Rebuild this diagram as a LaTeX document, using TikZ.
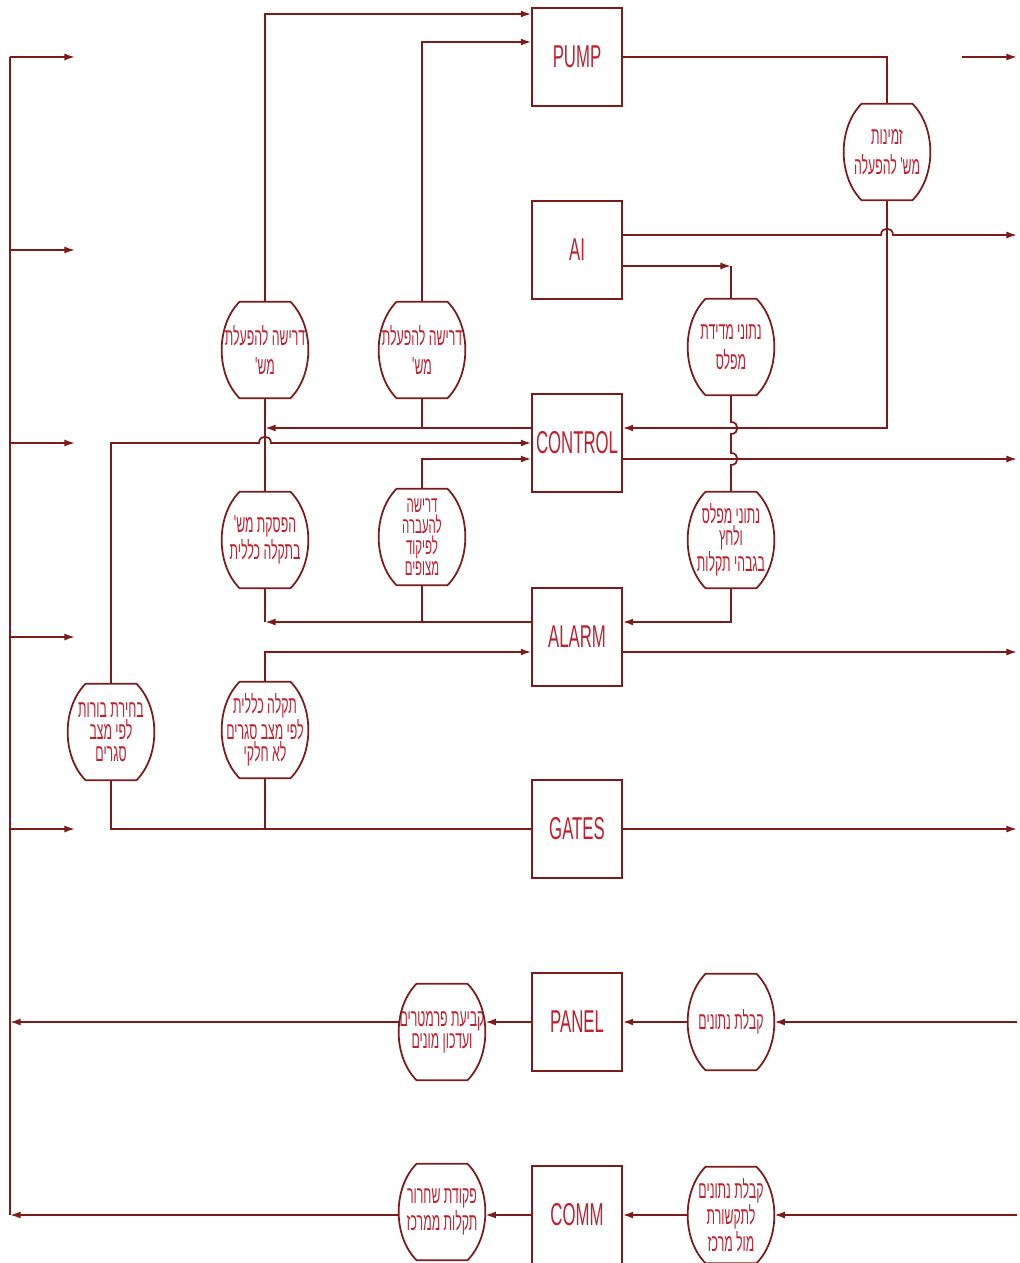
\documentclass[tikz,border=0pt]{standalone}
\usepackage{fontspec}
\usepackage{tikz}
\usetikzlibrary{arrows.meta}
\newfontfamily\hebfont[Script=Hebrew,FakeStretch=0.5]{Liberation Sans}
\newfontfamily\boxfont[FakeStretch=0.53]{Liberation Sans}
\TeXXeTstate=1
\definecolor{linecol}{HTML}{7D1A1A}
\definecolor{textcol}{HTML}{C0202E}
\newcommand{\heb}[1]{\beginR#1\endR}

\begin{document}
\begin{tikzpicture}[
    x=0.02cm, y=-0.02cm,
    >={Latex[length=6pt,width=4pt]},
    unitbox/.style={draw=linecol, line width=0.8pt, minimum width=1.8cm,
                    minimum height=1.96cm, inner sep=0pt, text=textcol,
                    font=\boxfont\fontsize{18}{20}\selectfont},
    flowlabel/.style={minimum width=1.72cm, minimum height=1.92cm, inner sep=0pt,
                      align=center, text=textcol,
                      font=\hebfont\fontsize{14}{12.5}\selectfont},
    twoline/.style={font=\hebfont\fontsize{14}{17}\selectfont},
    fourline/.style={font=\hebfont\fontsize{13}{12}\selectfont},
    wire/.style={draw=linecol, line width=1pt},
    feed/.style={wire, ->},
]
\useasboundingbox (0,0) rectangle (1019,1263);
\clip (0,0) rectangle (1019,1263);

% ---- Units ----
\node[unitbox] (pump)  at (577,57)   {PUMP};
\node[unitbox] (ai)    at (577,250)  {AI};
\node[unitbox] (ctrl)  at (577,443)  {CONTROL};
\node[unitbox] (alarm) at (577,637)  {ALARM};
\node[unitbox] (gates) at (577,829)  {GATES};
\node[unitbox] (panel) at (577,1022) {PANEL};
\node[unitbox] (comm)  at (577,1215) {COMM};

% ---- Flow labels ----
\node[flowlabel, twoline]  (zmin)  at (887,152)  {\heb{זמינות}\\\heb{מש' להפעלה}};
\node[flowlabel, twoline]  (req1)  at (265,350)  {\heb{דרישה להפעלת}\\\heb{מש'}};
\node[flowlabel, twoline]  (req2)  at (422,350)  {\heb{דרישה להפעלת}\\\heb{מש'}};
\node[flowlabel, twoline]  (lvl)   at (731,347)  {\heb{נתוני מדידת}\\\heb{מפלס}};
\node[flowlabel]           (stop)  at (265,540)  {\heb{הפסקת מש'}\\\heb{בתקלה כללית}};
\node[flowlabel, fourline] (xfer)  at (422,537)  {\heb{דרישה}\\\heb{להעברה}\\\heb{לפיקוד}\\\heb{מצופים}};
\node[flowlabel]           (lvl2)  at (731,540)  {\heb{נתוני מפלס}\\\heb{ולחץ}\\\heb{בגבהי תקלות}};
\node[flowlabel]           (pits)  at (111,732)  {\heb{בחירת בורות}\\\heb{לפי מצב}\\\heb{סגרים}};
\node[flowlabel]           (fault) at (265,730)  {\heb{תקלה כללית}\\\heb{לפי מצב סגרים}\\\heb{לא חלקי}};
\node[flowlabel]           (param) at (442,1032) {\heb{קביעת פרמטרים}\\\heb{ועדכון מונים}};
\node[flowlabel]           (recv)  at (731,1022) {\heb{קבלת נתונים}};
\node[flowlabel]           (reset) at (442,1212) {\heb{פקודת שחרור}\\\heb{תקלות ממרכז}};
\node[flowlabel]           (link)  at (731,1215) {\heb{קבלת נתונים}\\\heb{לתקשורת}\\\heb{מול מרכז}};

% barrel outlines
\foreach \s in {zmin,req1,req2,lvl,stop,xfer,lvl2,pits,fault,param,recv,reset,link}
  \draw[wire] ([xshift=0.36cm]\s.north west) -- ([xshift=-0.36cm]\s.north east)
    .. controls ([xshift=0.12cm,yshift=-0.48cm]\s.north east) and ([xshift=0.12cm,yshift=0.48cm]\s.south east) .. ([xshift=-0.36cm]\s.south east)
    -- ([xshift=0.36cm]\s.south west)
    .. controls ([xshift=-0.12cm,yshift=0.48cm]\s.south west) and ([xshift=-0.12cm,yshift=-0.48cm]\s.north west) .. ([xshift=0.36cm]\s.north west) -- cycle;

% ---- Ports ----
\coordinate (leftEdge)  at (10,0);
\coordinate (rightEdge) at (1017,0);
\coordinate (pumpOut)   at (pump -| rightEdge);
\coordinate (pump-l1)  at ([yshift=0.86cm]pump.west);
\coordinate (pump-l2)  at ([yshift=0.3cm]pump.west);
\coordinate (ai-r1)    at ([yshift=0.3cm]ai.east);
\coordinate (ai-r2)    at ([yshift=-0.32cm]ai.east);
\coordinate (ctrl-l1)  at ([yshift=0.3cm]ctrl.west);
\coordinate (ctrl-l3)  at ([yshift=-0.32cm]ctrl.west);
\coordinate (ctrl-r1)  at ([yshift=0.3cm]ctrl.east);
\coordinate (ctrl-r3)  at ([yshift=-0.32cm]ctrl.east);
\coordinate (alarm-l1) at ([yshift=0.3cm]alarm.west);
\coordinate (alarm-l3) at ([yshift=-0.3cm]alarm.west);
\coordinate (alarm-r1) at ([yshift=0.3cm]alarm.east);
\coordinate (alarm-r3) at ([yshift=-0.3cm]alarm.east);
\coordinate (hopA) at (ai-r1 -| zmin.south);
\coordinate (hopB) at (ctrl-r1 -| lvl.south);
\coordinate (hopC) at (ctrl-r3 -| lvl.south);
\coordinate (hopD) at (ctrl.west -| req1.south);

% ---- Left bus ----
\draw[wire] (pump -| leftEdge) -- (comm -| leftEdge);
\foreach \b in {pump,ai,ctrl,alarm,gates}
  \draw[feed] (\b -| leftEdge) -- ++(65,0);

% ---- PUMP ----
\draw[feed] (req1.north) |- (pump-l1);
\draw[feed] (req2.north) |- (pump-l2);
\draw[wire] (pump.east) -| (zmin.north);
\draw[feed] ([xshift=-1.1cm]pumpOut) -- (pumpOut);
\draw[feed] (zmin.south) |- (ctrl-r1);

% ---- AI ----
\draw[feed] (ai-r1) -- ([xshift=-0.12cm]hopA)
  .. controls ([xshift=-0.12cm,yshift=0.17cm]hopA) and ([xshift=0.12cm,yshift=0.17cm]hopA) .. ([xshift=0.12cm]hopA)
  -- (hopA -| rightEdge);
\draw[feed] (ai-r2) -- (ai-r2 -| lvl.north);
\draw[wire] (ai-r2 -| lvl.north) -- (lvl.north);
\draw[wire] (lvl.south) -- ([yshift=0.12cm]hopB)
  .. controls ([xshift=0.17cm,yshift=0.12cm]hopB) and ([xshift=0.17cm,yshift=-0.12cm]hopB) .. ([yshift=-0.12cm]hopB)
  -- ([yshift=0.12cm]hopC)
  .. controls ([xshift=0.17cm,yshift=0.12cm]hopC) and ([xshift=0.17cm,yshift=-0.12cm]hopC) .. ([yshift=-0.12cm]hopC)
  -- (lvl2.north);
\draw[feed] (lvl2.south) |- (alarm-r1);

% ---- CONTROL ----
\draw[feed] (ctrl-l1) -- (ctrl-l1 -| req1.south);
\draw[wire] (req1.south) -- (stop.north);
\draw[wire] (req2.south) -- (req2.south |- ctrl-l1);
\draw[feed] (pits.north) |- ([xshift=-0.12cm]hopD)
  .. controls ([xshift=-0.12cm,yshift=0.17cm]hopD) and ([xshift=0.12cm,yshift=0.17cm]hopD) .. ([xshift=0.12cm]hopD)
  -- (ctrl.west);
\draw[feed] (xfer.north) |- (ctrl-l3);
\draw[feed] (ctrl-r3) -- (ctrl-r3 -| rightEdge);

% ---- ALARM ----
\draw[feed] (alarm-l1) -- (alarm-l1 -| stop.south);
\draw[wire] (stop.south) -- (stop.south |- alarm-l1);
\draw[wire] (xfer.south) -- (xfer.south |- alarm-l1);
\draw[feed] (fault.north) |- (alarm-l3);
\draw[feed] (alarm-r3) -- (alarm-r3 -| rightEdge);

% ---- GATES ----
\draw[wire] (gates.west) -| (pits.south);
\draw[wire] (fault.south) -- (fault.south |- gates.west);
\draw[feed] (gates.east) -- (gates.east -| rightEdge);

% ---- PANEL / COMM ----
\draw[feed] (recv.east -| rightEdge) -- (recv.east);
\draw[feed] (recv.west) -- (panel.east);
\draw[feed] (panel.west) -- (panel.west -| param.east);
\draw[feed] (panel.west -| param.west) -- (panel.west -| leftEdge);
\draw[feed] (comm.east -| rightEdge) -- (comm.east -| link.east);
\draw[feed] (comm.east -| link.west) -- (comm.east);
\draw[feed] (comm.west) -- (comm.west -| reset.east);
\draw[feed] (comm.west -| reset.west) -- (comm.west -| leftEdge);
\end{tikzpicture}
\end{document}
